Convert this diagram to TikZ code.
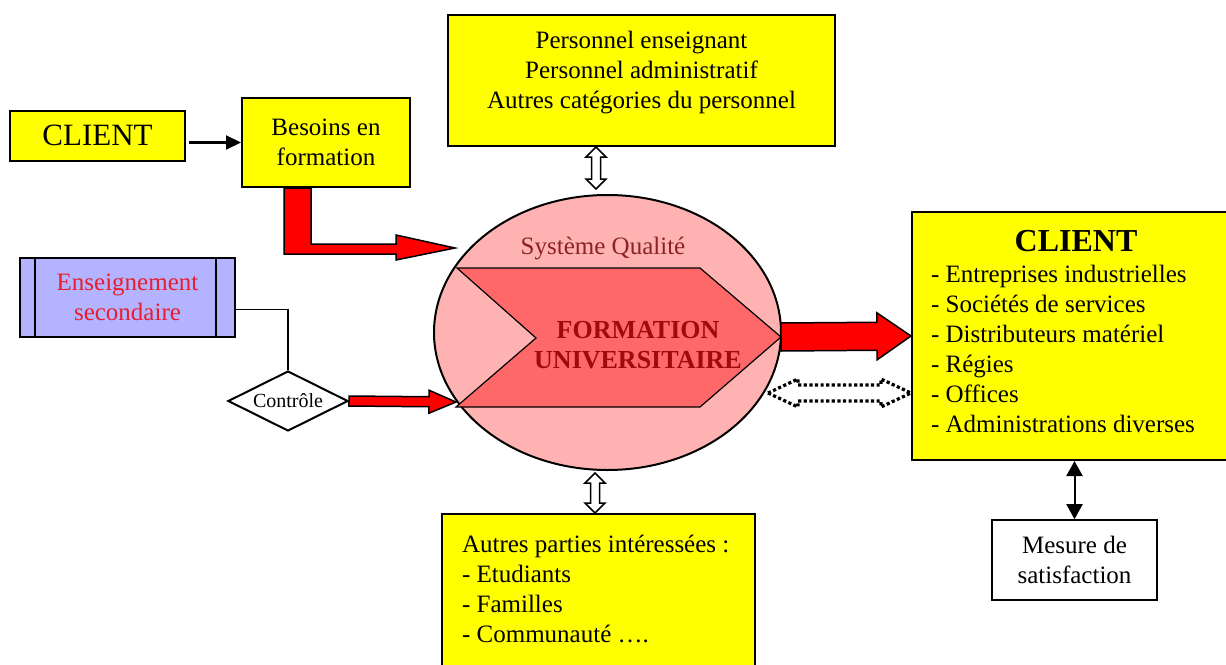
\documentclass[tikz,border=0pt]{standalone}
\usepackage{fontspec}
\setmainfont{Liberation Serif}
\usetikzlibrary{calc,shapes.geometric,arrows.meta}
\definecolor{jaune}{RGB}{255,255,0}
\definecolor{lavande}{RGB}{179,179,255}
\definecolor{rose}{RGB}{255,178,178}
\definecolor{saumon}{RGB}{255,104,104}
\definecolor{bordeaux}{RGB}{140,35,35}
\definecolor{grenat}{RGB}{160,10,10}
\definecolor{rouge}{RGB}{255,0,0}
\definecolor{rougetxt}{RGB}{232,30,45}
\newcommand\txtnorm{\fontsize{12.5}{15}\selectfont}
\tikzset{
  box/.style={draw, line width=1pt, fill=jaune, inner sep=0pt},
  losange/.style={diamond, draw, line width=1pt, fill=white, aspect=2, inner sep=0pt,
    minimum width=60pt, minimum height=30pt, font=\fontsize{10}{12}\selectfont},
  fleche/.style={line width=1.1pt, -{Triangle[length=7.5pt,width=7pt]}},
  % bloc simple : demi-largeur tige / demi-largeur tete / longueur tete
  sblock/.style args={#1/#2/#3}{to path={
    ($(\tikztostart)!#1!90:(\tikztotarget)$)
    -- ($(\tikztotarget)!#3!(\tikztostart)!#1!-90:(\tikztostart)$)
    -- ($(\tikztotarget)!#3!(\tikztostart)!#2!-90:(\tikztostart)$)
    -- (\tikztotarget)
    -- ($(\tikztotarget)!#3!(\tikztostart)!#2!90:(\tikztostart)$)
    -- ($(\tikztotarget)!#3!(\tikztostart)!#1!90:(\tikztostart)$)
    -- ($(\tikztostart)!#1!-90:(\tikztotarget)$)
    -- cycle}},
  % bloc double
  dblock/.style args={#1/#2/#3}{to path={
    (\tikztostart)
    -- ($(\tikztostart)!#3!(\tikztotarget)!#2!90:(\tikztotarget)$)
    -- ($(\tikztostart)!#3!(\tikztotarget)!#1!90:(\tikztotarget)$)
    -- ($(\tikztotarget)!#3!(\tikztostart)!#1!-90:(\tikztostart)$)
    -- ($(\tikztotarget)!#3!(\tikztostart)!#2!-90:(\tikztostart)$)
    -- (\tikztotarget)
    -- ($(\tikztotarget)!#3!(\tikztostart)!#2!90:(\tikztostart)$)
    -- ($(\tikztotarget)!#3!(\tikztostart)!#1!90:(\tikztostart)$)
    -- ($(\tikztostart)!#3!(\tikztotarget)!#1!-90:(\tikztotarget)$)
    -- ($(\tikztostart)!#3!(\tikztotarget)!#2!-90:(\tikztotarget)$)
    -- cycle}},
  rblock/.style={draw, line width=0.75pt, fill=rouge, sblock=#1},
  hollow/.style={draw, line width=0.75pt, fill=white, dblock=#1},
}

\begin{document}
\begin{tikzpicture}[x=0.5pt, y=-0.5pt, font=\txtnorm]
  \useasboundingbox (0,0) rectangle (1226,664);

  % entrees
  \node[box, minimum width=87.5pt, minimum height=25pt, font=\fontsize{15.5}{18}\selectfont] (cli) at (97.5,135.5) {CLIENT};
  \node[box, minimum width=84pt, minimum height=44.5pt, align=center] (besoins) at (326,142.5) {Besoins en\\formation};

  \node[box, minimum width=193.5pt, minimum height=65.5pt] (perso) at (641.5,80.5) {};
  \node[align=center] (perso-txt) at (641.5,72.5) {Personnel enseignant\\Personnel administratif\\Autres catégories du personnel};

  \node[box, fill=lavande, minimum width=107.5pt, minimum height=39.5pt, align=center, text=rougetxt] (ens) at (127.5,297.5) {Enseignement\\secondaire};
  \draw[line width=1pt] ([xshift=8pt]ens.north west) -- ([xshift=8pt]ens.south west);
  \draw[line width=1pt] ([xshift=-10pt]ens.north east) -- ([xshift=-10pt]ens.south east);

  \node[losange] (ctrl) at (288,401) {Contrôle};

  % systeme qualite
  \node[ellipse, draw, line width=1pt, fill=rose, minimum width=173.5pt, minimum height=137.5pt] (sq) at (607.5,332.5) {};
  \coordinate (chE) at (781,337);
  \coordinate (entree) at (456,402);
  \coordinate (sortie) at (768,393);
  \draw[fill=saumon, line width=0.6pt] (457,268) -- (700,268) -- (chE) -- (700,407) -- (456,407) -- (536,338) -- cycle;
  \node[text=bordeaux] (sq-titre) at (603,249) {Système Qualité};
  \node[font=\fontsize{13}{15}\selectfont\bfseries, text=grenat, align=center] (fu) at (638,345) {FORMATION\\UNIVERSITAIRE};

  % sorties
  \node[box, minimum width=164pt, minimum height=124pt] (client) at (1076,336) {};
  \node[font=\fontsize{16}{18}\selectfont\bfseries] (client-titre) at (1076,241) {CLIENT};
  \node[anchor=west, align=left] (client-liste) at (924,348.5) {- Entreprises industrielles\\- Sociétés de services\\- Distributeurs matériel\\- Régies\\- Offices\\- Administrations diverses};

  \node[draw, line width=0.8pt, fill=white, minimum width=82.5pt, minimum height=40pt, align=center] (mesure) at (1074.5,560) {Mesure de\\satisfaction};

  \node[box, minimum width=156.5pt, minimum height=85pt] (autres) at (598.5,599) {};
  \node[anchor=west, align=left] (autres-txt) at (455,589) {Autres parties intéressées :\\- Etudiants\\- Familles\\- Communauté ….};

  % fleches
  \draw[fleche] ([xshift=1.5pt]besoins.west -| cli.east) -- (besoins.west);
  \draw[draw, line width=0.75pt, fill=rouge] ($(besoins.south)+(-42,0)$) -- ++(0,66) -- ++(112,0) -- ++(0,6)
    -- ++(59,-12) -- ++(-59,-13) -- ++(0,9) -- ++(-85,0) -- ++(0,-56) -- cycle;
  \draw[line width=0.6pt] ([yshift=-6pt]ens.east) -| (ctrl.north);
  \draw[rblock=2.5pt/5.75pt/13.5pt] (ctrl.east) to (entree);
  \draw[rblock=7pt/11.75pt/17pt] (chE) to (client.west);
  \draw[hollow=2.25pt/5pt/5pt] ([xshift=-22.75pt]perso.south) to ([xshift=-5.75pt,yshift=2.5pt]sq.north);
  \draw[hollow=2.25pt/5pt/5pt] ([xshift=-6.25pt,yshift=-1pt]sq.south) to ([xshift=-1.75pt]autres.north);
  \draw[hollow=4pt/7pt/15pt, line width=1.6pt, dash pattern=on 1.6pt off 1.2pt] (sortie) to ([yshift=-28.5pt]client.west);
  \draw[line width=1pt, {Triangle[length=7.5pt,width=8pt]}-{Triangle[length=7.5pt,width=8pt]}] (mesure.north |- client.south) -- (mesure.north);
\end{tikzpicture}
\end{document}
